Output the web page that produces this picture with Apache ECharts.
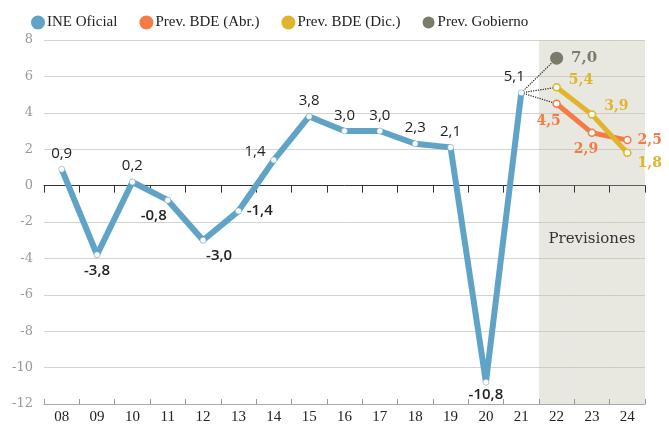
<!DOCTYPE html>
<html>
<head>
<meta charset="utf-8">
<script src="https://cdn.jsdelivr.net/npm/echarts@6/dist/echarts.min.js"></script>
<style>
  html, body { margin: 0; padding: 0; background: #fff; }
  #echarts { width: 669px; height: 429px; }
</style>
</head>
<body>
<div id="echarts"></div>
<script>
// datos
const years = ['08', '09', '10', '11', '12', '13', '14', '15', '16', '17', '18', '19', '20', '21', '22', '23', '24']
const ineOficial = [0.9, -3.8, 0.2, -0.8, -3.0, -1.4, 1.4, 3.8, 3.0, 3.0, 2.3, 2.1, -10.8, 5.1, null, null, null]
const bdeAbr = [null, null, null, null, null, null, null, null, null, null, null, null, null, null, 4.5, 2.9, 2.5]
const bdeDic = [null, null, null, null, null, null, null, null, null, null, null, null, null, null, 5.4, 3.9, 1.8]
const gobierno = [null, null, null, null, null, null, null, null, null, null, null, null, null, null, 7.0, null, null]
const previsionYears = ['22', '23', '24']
const yTicks = { min: -12, max: 8, interval: 2 }

const blue = '#5fa3c7'
const orange = '#f47b43'
const yellow = '#e0b42c'
const grey = '#7b7b6a'
const shade = 'rgba(190,190,170,0.35)'

const fmt = v => String(v.toFixed(1)).replace('.', ',')

// posiciones de las etiquetas de cada punto
const ineLabelPos = [
  { position: 'top' },
  { position: 'bottom' },
  { position: 'top' },
  { position: 'bottom', offset: [-14, 0] },
  { position: 'bottom', offset: [16, 0] },
  { position: 'right' },
  { position: 'left', offset: [0, -8] },
  { position: 'top' },
  { position: 'top' },
  { position: 'top' },
  { position: 'top' },
  { position: 'top' },
  { position: 'bottom', distance: 2 },
  { position: 'top', offset: [-7, 0] },
]
const abrLabelPos = { 14: { position: 'bottom', offset: [-8, 0] }, 15: { position: 'bottom', offset: [-6, -1] }, 16: { position: 'right' } }
const dicLabelPos = { 14: { position: 'right', offset: [2, -7] }, 15: { position: 'right', offset: [2, -8] }, 16: { position: 'right', offset: [0, 11] } }

const labelFont = { fontFamily: 'Open Sans', fontSize: 15, color: '#222' }
const prevFont = { fontFamily: 'DejaVu Serif', fontWeight: 'bold', fontSize: 14 }

let ineData = ineOficial.map((v, i) => {
  if (v === null) return null
  return {
    value: v,
    label: Object.assign({ show: true, formatter: fmt(v), distance: 5 }, labelFont,
      { fontWeight: v < 0 ? 600 : 'normal' }, ineLabelPos[i] || {})
  }
})

let prevData = (arr, pos, color) => arr.map((v, i) => {
  if (v === null) return null
  return {
    value: v,
    label: Object.assign({ show: true, formatter: fmt(v), color: color, distance: 6 }, prevFont, pos[i] || {})
  }
})

// líneas punteadas desde el último dato oficial
let connector = target => years.map((y, i) => i === 13 ? ineOficial[13] : (i === 14 ? target[14] : null))
let connectorSeries = target => ({
  type: 'line',
  data: connector(target),
  symbol: 'none',
  silent: true,
  z: 1,
  lineStyle: { color: '#222', width: 1.2, type: 'dotted' },
})

// fondo gris de previsiones (barras de borde a borde de la banda)
let shadeBar = (value, withLabel) => ({
  type: 'bar',
  silent: true,
  barWidth: '100%',
  barGap: '-100%',
  z: 0,
  itemStyle: { color: shade },
  data: years.map(y => {
    if (previsionYears.indexOf(y) < 0) return null
    let item = { value: value }
    if (withLabel && y === '23') {
      item.label = {
        show: true,
        position: 'insideTop',
        distance: 46,
        formatter: 'Previsiones',
        fontFamily: 'DejaVu Serif',
        fontSize: 15,
        color: '#333',
      }
    }
    return item
  }),
})

let myChart = echarts.init(document.getElementById('echarts'))
let options = {
  animation: false,
  backgroundColor: '#fff',
  grid: { left: 44, right: 24, top: 40, bottom: 25 },
  legend: {
    top: 10,
    left: 26,
    icon: 'circle',
    itemWidth: 12,
    itemHeight: 12,
    itemGap: 22,
    textStyle: { fontFamily: 'Liberation Serif', fontSize: 15, color: '#222', padding: [0, 0, 0, -2] },
    data: [
      { name: 'INE Oficial', itemStyle: { color: blue } },
      { name: 'Prev. BDE (Abr.)', itemStyle: { color: orange } },
      { name: 'Prev. BDE (Dic.)', itemStyle: { color: yellow } },
      { name: 'Prev. Gobierno', itemStyle: { color: grey } },
    ],
  },
  xAxis: [
    {
      type: 'category',
      data: years,
      boundaryGap: true,
      position: 'bottom',
      axisLine: { onZero: false, lineStyle: { color: '#aaa', width: 1 } },
      axisTick: { show: true, inside: true, length: 5, lineStyle: { color: '#999' } },
      axisLabel: { fontFamily: 'Liberation Serif', fontSize: 15, color: '#222', margin: 6 },
    },
    {
      type: 'category',
      data: years,
      boundaryGap: true,
      position: 'bottom',
      axisLine: { onZero: true, lineStyle: { color: '#333', width: 1 } },
      axisTick: { show: true, inside: false, length: 7, lineStyle: { color: '#333' } },
      axisLabel: { show: false },
    },
  ],
  yAxis: {
    type: 'value',
    min: yTicks.min,
    max: yTicks.max,
    interval: yTicks.interval,
    axisLine: { show: false },
    axisTick: { show: false },
    axisLabel: { fontFamily: 'DejaVu Serif', fontSize: 13, color: '#999', margin: 11 },
    splitLine: { lineStyle: { color: '#d4d4cc', width: 1 } },
  },
  series: [
    shadeBar(yTicks.max, false),
    shadeBar(yTicks.min, true),
    {
      name: 'INE Oficial',
      type: 'line',
      data: ineData,
      z: 3,
      symbol: 'circle',
      symbolSize: 6,
      itemStyle: { color: '#fff', borderColor: blue, borderWidth: 0.5 },
      lineStyle: { color: blue, width: 6, join: 'round' },
    },
    connectorSeries(bdeAbr),
    connectorSeries(bdeDic),
    connectorSeries(gobierno),
    {
      name: 'Prev. BDE (Abr.)',
      type: 'line',
      data: prevData(bdeAbr, abrLabelPos, orange),
      z: 3,
      symbol: 'circle',
      symbolSize: 7,
      itemStyle: { color: '#fff', borderColor: orange, borderWidth: 1.5 },
      lineStyle: { color: orange, width: 5 },
    },
    {
      name: 'Prev. BDE (Dic.)',
      type: 'line',
      data: prevData(bdeDic, dicLabelPos, yellow),
      z: 4,
      symbol: 'circle',
      symbolSize: 7,
      itemStyle: { color: '#fff', borderColor: yellow, borderWidth: 1.5 },
      lineStyle: { color: yellow, width: 5 },
    },
    {
      name: 'Prev. Gobierno',
      type: 'line',
      data: prevData(gobierno, { 14: { position: 'right', distance: 8, fontSize: 15 } }, grey),
      z: 4,
      symbol: 'circle',
      symbolSize: 13,
      itemStyle: { color: grey },
    },
  ],
}
myChart.setOption(options)
</script>
</body>
</html>
